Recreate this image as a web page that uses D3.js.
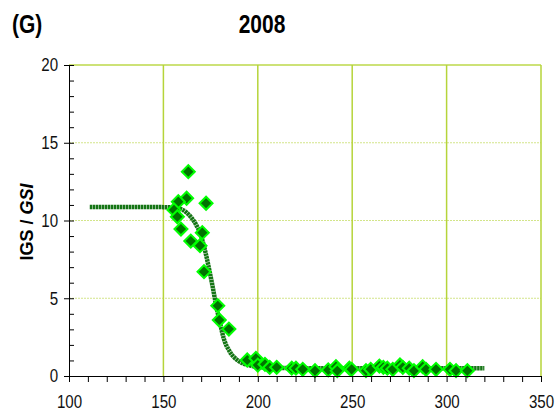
<!DOCTYPE html>
<html>
<head>
<meta charset="utf-8">
<script src="https://cdn.jsdelivr.net/npm/d3@7"></script>
<style>
  body { margin: 0; background: #fff; }
  text { font-family: "Liberation Sans", Arial, sans-serif; }
</style>
</head>
<body>
<div id="wrapper"></div>
<script>
// observed points (length, IGS)
const pointX = [163.2, 162.3, 157.9, 172.6, 155.6, 157.4, 159.3, 170.6, 164.5, 169.4,
  171.5, 178.8, 179.6, 184.7, 194.4, 199.0, 200.0, 203.8, 206.3, 210.0,
  218.0, 220.2, 223.8, 230.3, 237.3, 241.4, 242.1, 248.5, 249.7, 257.3,
  259.8, 264.4, 266.5, 268.6, 271.5, 275.3, 276.8, 280.2, 282.7, 287.3,
  289.1, 294.4, 301.8, 305.0, 311.0];
const pointY = [13.14, 11.43, 11.21, 11.11, 10.68, 10.24, 9.45, 9.22, 8.68, 8.38,
  6.71, 4.52, 3.60, 3.02, 1.03, 1.14, 0.70, 0.75, 0.55, 0.56,
  0.50, 0.50, 0.43, 0.34, 0.39, 0.60, 0.34, 0.50, 0.43, 0.34,
  0.43, 0.64, 0.56, 0.50, 0.43, 0.71, 0.56, 0.50, 0.34, 0.60,
  0.43, 0.43, 0.43, 0.34, 0.34];

// fitted curve
const curveX = [111, 150, 155, 160, 164, 167, 170, 172, 174, 176, 178, 180, 182, 185, 190, 195, 200, 210, 230, 260, 320];
const curveY = [10.87, 10.86, 10.84, 10.7, 10.3, 9.8, 9.0, 8.1, 7.0, 5.8, 4.5, 3.4, 2.4, 1.6, 0.95, 0.7, 0.58, 0.52, 0.5, 0.5, 0.5];

const xTicks = [100, 150, 200, 250, 300, 350];
const yTicks = [0, 5, 10, 15, 20];

const narrow = "scale(0.84,1)";

const dimensions = {
  width: 557,
  height: 419,
  margin: { top: 65, bottom: 43, left: 69, right: 16 },
};
dimensions.boundedWidth = dimensions.width - dimensions.margin.left - dimensions.margin.right;
dimensions.boundedHeight = dimensions.height - dimensions.margin.top - dimensions.margin.bottom;

const wrapper = d3.select("#wrapper").append("svg")
  .attr("width", dimensions.width)
  .attr("height", dimensions.height);

const bounds = wrapper.append("g")
  .attr("transform", `translate(${dimensions.margin.left},${dimensions.margin.top})`);

const xScale = d3.scaleLinear().domain([100, 350]).range([0, dimensions.boundedWidth]);
const yScale = d3.scaleLinear().domain([0, 20]).range([dimensions.boundedHeight, 0]);

// grid
bounds.append("g").selectAll("line")
  .data(yTicks.filter((d) => d > 0 && d < 20))
  .join("line")
  .attr("x1", 0).attr("x2", dimensions.boundedWidth)
  .attr("y1", (d) => yScale(d)).attr("y2", (d) => yScale(d))
  .attr("stroke", "#d3e58a").attr("stroke-width", 1)
  .attr("stroke-dasharray", "2,1");

bounds.append("line")
  .attr("x1", 0).attr("x2", dimensions.boundedWidth)
  .attr("y1", yScale(20)).attr("y2", yScale(20))
  .attr("stroke", "#bcd84a").attr("stroke-width", 1.5);

bounds.append("g").selectAll("line")
  .data(xTicks.filter((d) => d > 100))
  .join("line")
  .attr("x1", (d) => xScale(d)).attr("x2", (d) => xScale(d))
  .attr("y1", 0).attr("y2", dimensions.boundedHeight)
  .attr("stroke", "#b6d43a").attr("stroke-width", 1.5);

// curve
const line = d3.line()
  .x((d, i) => xScale(curveX[i]))
  .y((d, i) => yScale(curveY[i]))
  .curve(d3.curveMonotoneX);

bounds.append("path")
  .datum(curveX)
  .attr("d", line)
  .attr("fill", "none")
  .attr("stroke", "#157515")
  .attr("stroke-width", 4.5)
  .attr("stroke-dasharray", "2.5,0.5");

// points
const diamond = d3.symbol().type(d3.symbolSquare).size(84);
bounds.append("g").selectAll("path")
  .data(pointX)
  .join("path")
  .attr("d", diamond)
  .attr("transform", (d, i) => `translate(${xScale(d)},${yScale(pointY[i])}) rotate(45)`)
  .attr("fill", "#007300")
  .attr("stroke", "#00ff00")
  .attr("stroke-width", 2);

// axes
const xAxis = bounds.append("g")
  .attr("transform", `translate(0,${dimensions.boundedHeight})`)
  .call(d3.axisBottom(xScale).tickValues(d3.range(100, 351, 10)).tickSize(6)
    .tickFormat((d) => (xTicks.includes(d) ? d : "")));
xAxis.select(".domain").attr("stroke", "#000");
xAxis.selectAll(".tick line").attr("stroke", "#000");
xAxis.selectAll("text").attr("font-size", 18).attr("fill", "#111")
  .attr("dy", "1.3em").attr("transform", narrow);

const yMinor = bounds.append("g")
  .call(d3.axisRight(yScale).tickValues(d3.range(0, 21, 1)).tickSize(5).tickFormat(""));
yMinor.select(".domain").remove();
yMinor.selectAll(".tick line").attr("stroke", "#000");

const yAxis = bounds.append("g")
  .call(d3.axisLeft(yScale).tickValues(yTicks).tickSize(5).tickPadding(8));
yAxis.select(".domain").attr("stroke", "#000");
yAxis.selectAll(".tick line").attr("stroke", "#000");
yAxis.selectAll("text").attr("font-size", 18).attr("fill", "#111").attr("transform", narrow);

// labels
wrapper.append("text")
  .attr("transform", `translate(12,33) ${narrow}`)
  .attr("font-size", 25).attr("font-weight", "bold")
  .text("(G)");

wrapper.append("text")
  .attr("transform", `translate(262,33) ${narrow}`)
  .attr("text-anchor", "middle")
  .attr("font-size", 25).attr("font-weight", "bold")
  .text("2008");

const yLabel = wrapper.append("text")
  .attr("transform", "translate(33,222) rotate(-90)")
  .attr("text-anchor", "middle")
  .attr("font-size", 18).attr("font-weight", "bold");
yLabel.append("tspan").text("IGS / ");
yLabel.append("tspan").attr("font-style", "italic").text("GSI");
</script>
</body>
</html>
